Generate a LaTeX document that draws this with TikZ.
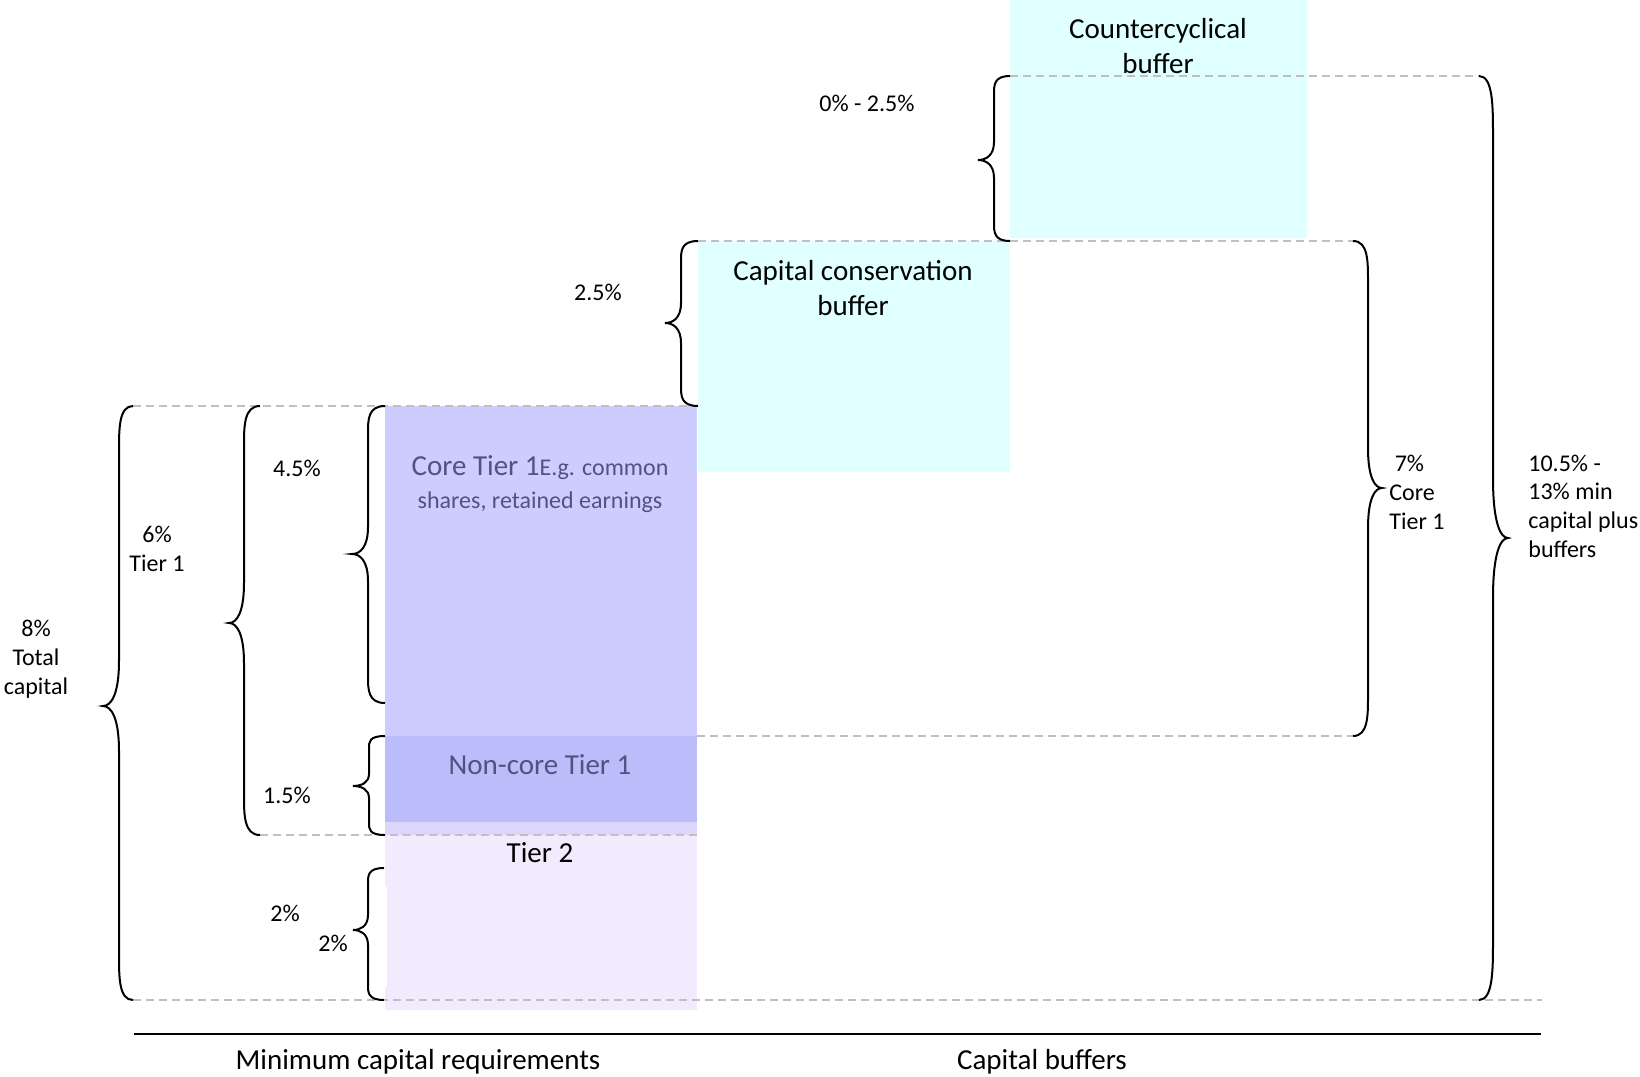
\documentclass[tikz,border=0pt]{standalone}
\usepackage{fontspec}
\setmainfont{Carlito}
\definecolor{bufferfill}{RGB}{224,255,255}
\definecolor{corefill}{RGB}{204,204,255}
\definecolor{noncorefill}{RGB}{188,188,250}
\definecolor{seamfill}{RGB}{220,214,252}
\definecolor{tiertwofill}{RGB}{242,234,253}
\definecolor{guide}{RGB}{192,192,192}
\definecolor{tiertext}{RGB}{82,82,128}

% Vertical curly brace: arm x, spine x, tip x, top y, tip y, bottom y, bend length
\newcommand\capbrace[7]{%
  \pgfmathsetmacro\bA{#4+#7}%
  \pgfmathsetmacro\bAc{#4+0.5*#7}%
  \pgfmathsetmacro\bB{#5-#7}%
  \pgfmathsetmacro\bBc{#5-0.25*#7}%
  \pgfmathsetmacro\bC{#5+#7}%
  \pgfmathsetmacro\bCc{#5+0.25*#7}%
  \pgfmathsetmacro\bD{#6-#7}%
  \pgfmathsetmacro\bDc{#6-0.5*#7}%
  \pgfmathsetmacro\bM{(#2+#3)/2}%
  \draw[bracepen] (#1,#4) .. controls (#2,#4) and (#2,\bAc) .. (#2,\bA)
    -- (#2,\bB) .. controls (#2,\bBc) and (\bM,#5) .. (#3,#5)
    .. controls (\bM,#5) and (#2,\bCc) .. (#2,\bC)
    -- (#2,\bD) .. controls (#2,\bDc) and (#2,#6) .. (#1,#6);
}

\begin{document}
\begin{tikzpicture}[x=0.5pt,y=-0.5pt,
  bracepen/.style={line width=1pt, black},
  guideline/.style={guide, line width=1pt, dash pattern=on 4pt off 2.5pt},
  small/.style={font=\fontsize{12}{14.4}\selectfont, inner sep=0pt, align=center},
  smallleft/.style={font=\fontsize{12}{14.4}\selectfont, inner sep=0pt, align=left},
  big/.style={font=\fontsize{14.5}{17.5}\selectfont, inner sep=0pt, align=center},
]
\useasboundingbox (0,0) rectangle (1640,1077);
\fill[white] (0,0) rectangle (1640,1077);

% capital blocks
\fill[bufferfill] (1010,0) rectangle (1307,238);
\fill[bufferfill] (698,241) rectangle (1010,472);
\fill[corefill] (385,406) rectangle (697,736);
\fill[noncorefill] (385,736) rectangle (697,822);
\fill[seamfill] (385,822) rectangle (697,835);
\fill[tiertwofill] (385,835) rectangle (697,1010);
\fill[white] (384,887) rectangle (387,987);

% level guides
\draw[guideline] (1010,76) -- (1480,76);
\draw[guideline] (698,241) -- (1355,241);
\draw[guideline] (133,406) -- (697,406);
\draw[guideline] (697,736) -- (1355,736);
\draw[guideline] (260,835) -- (697,835);
\draw[guideline] (133,1000) -- (1542,1000);

% axis rule
\draw[line width=1.3pt] (134,1034) -- (1541,1034);

% braces
\capbrace{1010}{994}{978}{76}{160}{241}{18}
\capbrace{698}{681}{665}{241}{323}{406}{20}
\capbrace{385}{368}{352}{406}{554}{703}{27}
\capbrace{385}{369}{353}{736}{786}{835}{12}
\capbrace{260}{244}{229}{406}{623}{835}{40}
\capbrace{133}{119}{103}{406}{706}{1000}{45}
\capbrace{384}{368}{353}{868}{930}{1000}{15}
\capbrace{1353}{1368}{1382}{241}{488}{736}{40}
\capbrace{1479}{1493}{1508}{76}{538}{1000}{60}

% block labels (base anchor sits on the last line)
\node[big, anchor=base] (ccyb) at (1158,73) {Countercyclical\\buffer};
\node[big, anchor=base] (ccb) at (853,315) {Capital conservation\\buffer};
\node[small, font=\fontsize{12}{16.2}\selectfont, text=tiertext, anchor=base] (core)
  at (540,508) {{\fontsize{14.5}{17.5}\selectfont Core Tier 1}E.g. common\\shares, retained earnings};
\node[big, text=tiertext, anchor=base] (noncore) at (540,774.5) {Non-core Tier 1};
\node[big, anchor=base] (tiertwo) at (540,862.5) {Tier 2};

% percentage labels
\node[small, anchor=base] (pccyb) at (867,111) {0\% - 2.5\%};
\node[small, anchor=base] (pccb) at (598,300) {2.5\%};
\node[small, anchor=base] (pcore) at (297,476) {4.5\%};
\node[small, anchor=base] (ptierone) at (157,571) {6\%\\Tier 1};
\node[small, anchor=base] (ptotal) at (36,694.5) {8\%\\Total\\capital};
\node[small, anchor=base] (pnoncore) at (287,803) {1.5\%};
\node[small, anchor=base] (ptwoa) at (285,921) {2\%};
\node[small, anchor=base] (ptwob) at (333,951) {2\%};
\node[smallleft, anchor=base west] (pcorebuf) at (1389,529.5) {\hspace*{2.7pt}7\%\\Core\\Tier 1};
\node[smallleft, anchor=base west] (pall) at (1528,557.5) {10.5\% -\\13\% min\\capital plus\\buffers};

% axis captions
\node[big, anchor=base] (minreq) at (418,1069) {Minimum capital requirements};
\node[big, anchor=base] (buffers) at (1042,1069) {Capital buffers};
\end{tikzpicture}
\end{document}
